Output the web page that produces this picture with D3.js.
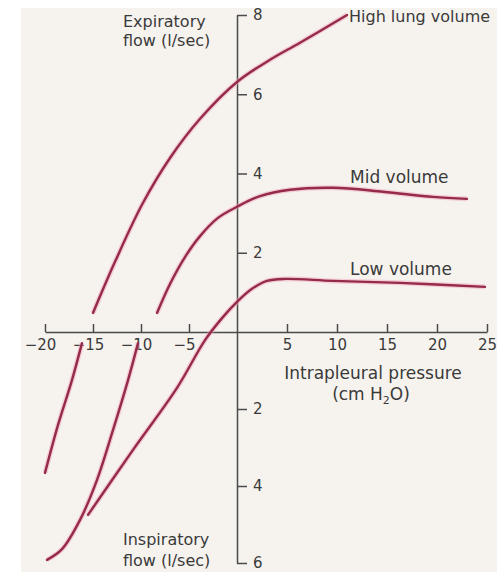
<!DOCTYPE html>
<html>
<head>
<meta charset="utf-8">
<script src="https://cdn.jsdelivr.net/npm/d3@7"></script>
<style>
  body { margin: 0; background: #fff; }
  svg { display: block; }
  .axis path, .axis line { stroke: #4a4a4a; stroke-width: 1.5; }
  .axis text { font-family: "DejaVu Sans", sans-serif; font-size: 15px; fill: #3a3a3a; }
  .lbl { font-family: "DejaVu Sans", sans-serif; font-size: 17px; fill: #3a3a3a; }
</style>
</head>
<body>
<svg id="chart"></svg>
<script>
// flow-volume curves: intrapleural pressure (cm H2O) vs flow (l/sec)
// null marks where the printed curve is broken by the axis labels

const highPressure = [-20, -18.65, -17.19, -16.15, null, -15, -12.71, -9.9, -6.98, -3.85, 0, 3.3, 6.3, 11];
const highFlow     = [-3.66, -2.42, -1.25, -0.29, null, 0.48, 1.77, 3.21, 4.39, 5.38, 6.31, 6.87, 7.3, 8.0];

const midPressure = [-19.79, -18.23, -16.35, -14.58, -12.92, -11.35, -10.31, null,
  -8.33, -6.98, -5.42, -3.85, -1.98, 0, 2.3, 5.3, 9.6, 14.6, 19.6, 23];
const midFlow     = [-5.92, -5.64, -4.88, -3.84, -2.55, -1.25, -0.29, null,
  0.48, 1.21, 1.89, 2.42, 2.88, 3.16, 3.43, 3.59, 3.64, 3.54, 3.41, 3.36];

const lowPressure = [-15.52, -10.83, -6.25, -3.33, -1.56, 0, 1.5, 3.0, 4.8, 9.6, 16.3, 24.8];
const lowFlow     = [-4.75, -3.06, -1.45, -0.21, 0.35, 0.76, 1.09, 1.29, 1.34, 1.29, 1.24, 1.14];

const xTicks = [-20, -15, -10, -5, 5, 10, 15, 20, 25];
const yTicks = [-6, -4, -2, 2, 4, 6, 8];

const w = 497, h = 572;

const svg = d3.select('#chart').attr('width', w).attr('height', h);

// scanned page background
svg.append('rect').attr('x', 21).attr('y', 8).attr('width', w - 21).attr('height', h - 8).attr('fill', '#f6f3ef');

// the printed axes are not evenly spaced either side of zero
const x = d3.scaleLinear().domain([-20, 0, 25]).range([45, 237, 487]);
const y = d3.scaleLinear().domain([-6, 0, 8]).range([563, 332, 15]);

const line = d3.line()
  .defined(d => d[0] !== null)
  .x(d => x(d[0]))
  .y(d => y(d[1]))
  .curve(d3.curveCatmullRom.alpha(0.5));

const curves = [
  [highPressure, highFlow],
  [midPressure, midFlow],
  [lowPressure, lowFlow]
].map(([px, fy]) => px.map((p, i) => [p, fy[i]]));

// axes
svg.append('g')
  .attr('class', 'axis')
  .attr('transform', 'translate(0,' + y(0) + ')')
  .call(d3.axisBottom(x).tickValues(xTicks).tickSize(-8).tickSizeOuter(0).tickPadding(7))
  .call(g => g.selectAll('.tick text').attr('dx', d => d < 0 ? -5 : 0));

svg.append('g')
  .attr('class', 'axis')
  .attr('transform', 'translate(' + x(0) + ',0)')
  .call(d3.axisRight(y).tickValues(yTicks).tickSize(10).tickSizeOuter(0).tickPadding(6)
    .tickFormat(d => Math.abs(d)));

svg.selectAll('.axis .domain').attr('fill', 'none');

// curves, with a soft halo like the printed ink
svg.selectAll('path.halo')
  .data(curves)
  .enter()
  .append('path')
  .attr('class', 'halo')
  .attr('d', line)
  .attr('fill', 'none')
  .attr('stroke', '#f0a8bc')
  .attr('stroke-opacity', 0.5)
  .attr('stroke-width', 5);

svg.selectAll('path.curve')
  .data(curves)
  .enter()
  .append('path')
  .attr('class', 'curve')
  .attr('d', line)
  .attr('fill', 'none')
  .attr('stroke', '#962a4a')
  .attr('stroke-width', 2.4)
  .attr('stroke-linecap', 'round');

// labels
const labels = [
  {t: 'Expiratory', x: 123, y: 27, s: 16},
  {t: 'flow (l/sec)', x: 123, y: 46, s: 16},
  {t: 'High lung volume', x: 349, y: 22, s: 16},
  {t: 'Mid volume', x: 350, y: 183, s: 17},
  {t: 'Low volume', x: 350, y: 275, s: 17},
  {t: 'Inspiratory', x: 123, y: 545, s: 16},
  {t: 'flow (l/sec)', x: 123, y: 566, s: 16}
];

svg.selectAll('text.lbl')
  .data(labels)
  .enter()
  .append('text')
  .attr('class', 'lbl')
  .attr('x', d => d.x)
  .attr('y', d => d.y)
  .style('font-size', d => d.s + 'px')
  .text(d => d.t);

svg.append('text')
  .attr('class', 'lbl')
  .attr('x', 373)
  .attr('y', 379)
  .attr('text-anchor', 'middle')
  .text('Intrapleural pressure');

const unit = svg.append('text')
  .attr('class', 'lbl')
  .attr('x', 371)
  .attr('y', 400)
  .attr('text-anchor', 'middle');
unit.append('tspan').text('(cm H');
unit.append('tspan').attr('font-size', '11px').attr('dy', 4).text('2');
unit.append('tspan').attr('dy', -4).text('O)');
</script>
</body>
</html>
